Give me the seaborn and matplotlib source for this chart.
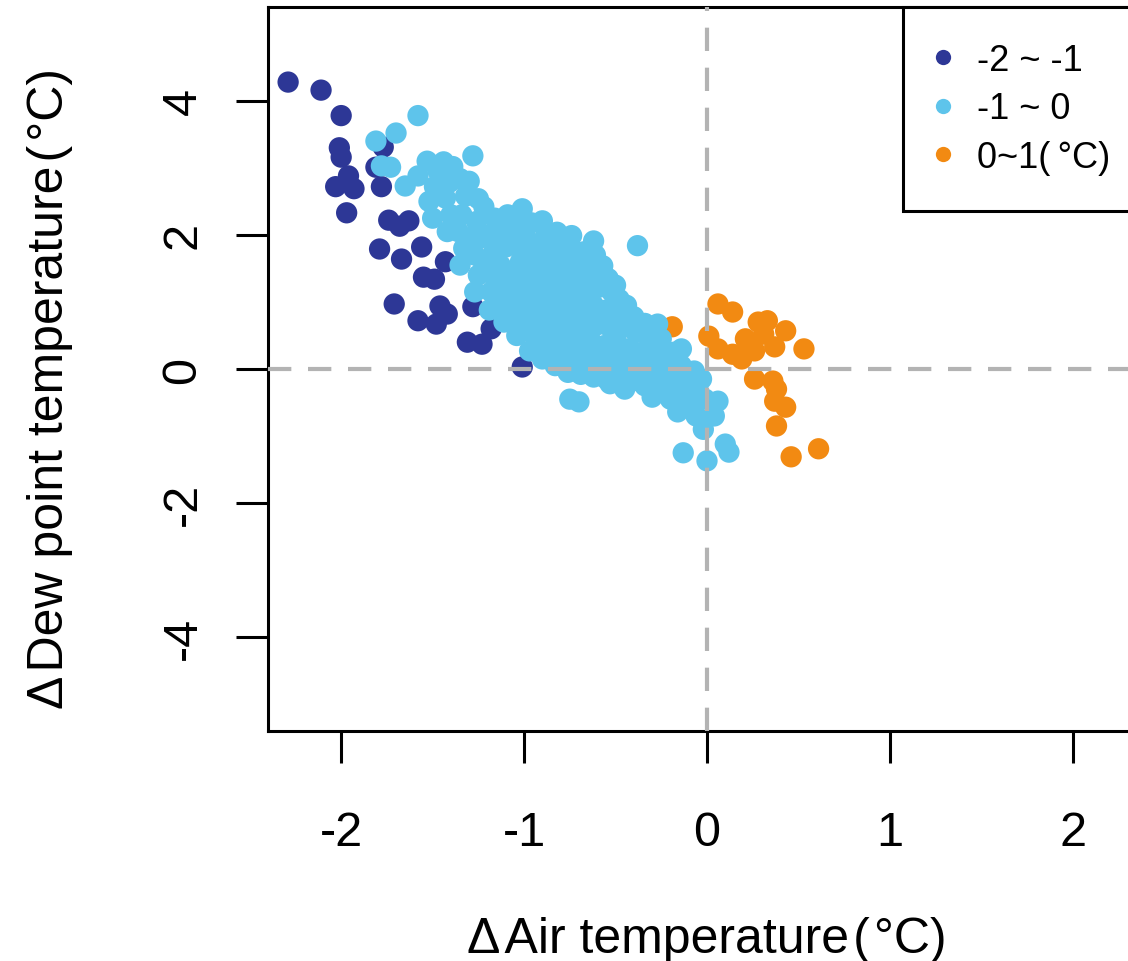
import matplotlib
matplotlib.use("Agg")
import numpy as np
import pandas as pd
import matplotlib.pyplot as plt
import seaborn as sns
from matplotlib.lines import Line2D

# ---------------- data ----------------
group_labels = ["-2 ~ -1", "-1 ~ 0", "0~1(\u2009°C)"]
group_colors = ["#2D3796", "#5EC4EB", "#F28A12"]

dark_x = [-2.29, -2.11, -2.00, -2.01, -2.00, -1.77, -1.96, -2.03, -1.93, -1.78,
          -1.81, -1.97, -1.74, -1.68, -1.63, -1.79, -1.67, -1.56, -1.55, -1.49,
          -1.71, -1.58, -1.43, -1.46, -1.42, -1.48, -1.28, -1.18, -1.31, -1.23,
          -1.01]
dark_y = [4.28, 4.16, 3.78, 3.30, 3.16, 3.31, 2.88, 2.72, 2.69, 2.72,
          3.01, 2.33, 2.22, 2.13, 2.21, 1.79, 1.64, 1.82, 1.37, 1.34,
          0.97, 0.72, 1.60, 0.94, 0.82, 0.67, 0.93, 0.60, 0.40, 0.37,
          0.03]

orange_x = [0.06, 0.14, 0.01, 0.06, 0.14, 0.19, 0.22, 0.26, 0.28, 0.33,
            0.31, 0.37, 0.43, 0.53, 0.26, 0.36, 0.38, 0.37, 0.43, 0.38,
            0.46, 0.61, -0.19, 0.21]
orange_y = [0.97, 0.85, 0.49, 0.30, 0.22, 0.15, 0.37, 0.27, 0.70, 0.72,
            0.52, 0.33, 0.57, 0.30, -0.15, -0.18, -0.30, -0.48, -0.57, -0.85,
            -1.31, -1.19, 0.63, 0.45]

light_x = [-1.58, -1.70, -1.81, -1.78, -1.73, -1.53, -1.44, -1.28, -1.58, -1.65,
           -1.35, -1.25, -1.01, -0.90, -0.74, -0.62, -0.38, -0.57, -0.82, -0.48,
           -0.40, -0.27, -0.14, -0.28, -0.23, -0.07, -0.75, -0.70, -0.53, -0.45,
           -0.30, -0.16, -0.02, 0.06, 0.04, 0.10, 0.12, 0.00, -0.13, -0.09,
           -0.01, -0.97,
           -1.50, -1.52, -1.49, -1.47,
           -1.42, -1.40, -1.43, -1.41, -1.39,
           -1.35, -1.33, -1.36, -1.34, -1.32, -1.30,
           -1.27, -1.25, -1.27, -1.24, -1.26, -1.22,
           -1.19, -1.18, -1.20, -1.17, -1.19, -1.16,
           -1.11, -1.12, -1.10, -1.13, -1.10, -1.12, -1.09,
           -1.04, -1.05, -1.03, -1.06, -1.02, -1.05, -1.03,
           -0.96, -0.98, -0.95, -0.97, -0.95, -0.98, -0.96,
           -0.90, -0.89, -0.91, -0.88, -0.90, -0.87, -0.91, -0.88,
           -0.83, -0.82, -0.84, -0.81, -0.83, -0.80, -0.84, -0.81,
           -0.76, -0.75, -0.77, -0.74, -0.76, -0.73, -0.77, -0.74,
           -0.69, -0.68, -0.70, -0.67, -0.69, -0.66, -0.70, -0.67,
           -0.62, -0.61, -0.63, -0.60, -0.62, -0.59, -0.63, -0.61,
           -0.55, -0.54, -0.56, -0.53, -0.55, -0.52, -0.54,
           -0.48, -0.47, -0.49, -0.46, -0.48,
           -0.41, -0.40, -0.42, -0.39,
           -0.34, -0.33, -0.35, -0.32, -0.34,
           -0.27, -0.26, -0.28, -0.25,
           -0.20, -0.19, -0.21, -0.18,
           -0.13, -0.12, -0.14,
           -0.06, -0.05, -0.03, -0.08,
           -1.46, -1.38, -1.30, -1.22, -1.15, -1.15, -1.08, -1.08, -1.08,
           -1.01, -1.01, -1.00, -0.94, -0.93, -0.94, -0.87, -0.86, -0.86,
           -0.80, -0.79, -0.80, -0.72, -0.72, -0.73, -0.65, -0.65, -0.66,
           -0.58, -0.58, -0.51, -0.51, -0.44, -0.44, -0.37, -0.37, -0.30,
           -0.23, -0.16, -0.10, -0.44, -0.50]
light_y = [3.78, 3.52, 3.40, 3.03, 3.01, 3.10, 3.09, 3.18, 2.88, 2.73,
           2.84, 2.54, 2.39, 2.21, 1.99, 1.91, 1.84, 1.54, 2.04, 1.04,
           0.78, 0.67, 0.30, 0.33, 0.12, -0.03, -0.45, -0.49, -0.22, -0.30,
           -0.42, -0.64, -0.90, -0.48, -0.70, -1.12, -1.24, -1.37, -1.25, -0.57,
           -0.45, 0.27,
           2.25, 2.50, 2.72, 2.95,
           2.05, 2.30, 2.55, 2.78, 3.02,
           1.55, 1.80, 2.05, 2.30, 2.58, 2.80,
           1.15, 1.40, 1.70, 1.95, 2.20, 2.42,
           0.88, 1.15, 1.45, 1.72, 2.00, 2.25,
           0.70, 0.98, 1.25, 1.55, 1.82, 2.08, 2.30,
           0.50, 0.78, 1.05, 1.33, 1.60, 1.88, 2.15,
           0.55, 0.82, 1.10, 1.38, 1.65, 1.92, 2.18,
           0.15, 0.42, 0.70, 0.98, 1.25, 1.52, 1.80, 2.02,
           0.05, 0.32, 0.60, 0.88, 1.15, 1.42, 1.68, 1.90,
           -0.05, 0.22, 0.50, 0.78, 1.05, 1.32, 1.58, 1.80,
           -0.08, 0.18, 0.45, 0.72, 1.00, 1.28, 1.55, 1.75,
           -0.12, 0.12, 0.40, 0.66, 0.95, 1.22, 1.48, 1.70,
           -0.15, 0.08, 0.35, 0.62, 0.88, 1.15, 1.35,
           -0.10, 0.12, 0.38, 0.62, 0.85,
           -0.18, 0.05, 0.30, 0.55,
           -0.25, 0.00, 0.25, 0.48, 0.68,
           -0.30, -0.08, 0.15, 0.45,
           -0.45, -0.20, 0.02, 0.25,
           -0.45, -0.20, 0.05,
           -0.70, -0.30, -0.15, -0.20,
           2.60, 2.15, 1.95, 1.55, 1.30, 1.85, 0.85, 1.40, 1.95,
           0.65, 1.20, 1.75, 0.30, 0.95, 1.55, 0.20, 0.75, 1.35,
           0.10, 0.65, 1.25, 0.05, 0.60, 1.15, 0.00, 0.55, 1.10,
           0.25, 0.80, 0.20, 0.75, 0.15, 0.65, 0.10, 0.55, 0.20,
           -0.10, -0.30, -0.40, 0.95, 1.25]

x_ticks = [-2, -1, 0, 1, 2]
y_ticks = [-4, -2, 0, 2, 4]

# draw order: dark, orange, light (light blue on top)
df = pd.concat([
    pd.DataFrame({"dT": dark_x, "dTd": dark_y, "group": group_labels[0]}),
    pd.DataFrame({"dT": orange_x, "dTd": orange_y, "group": group_labels[2]}),
    pd.DataFrame({"dT": light_x, "dTd": light_y, "group": group_labels[1]}),
], ignore_index=True)

# ---------------- style ----------------
sns.set_style("white")
plt.rcParams["font.family"] = ["Liberation Sans", "DejaVu Sans"]
plt.rcParams["axes.unicode_minus"] = False
plt.rcParams["text.color"] = "black"
plt.rcParams["axes.labelcolor"] = "black"

fig = plt.figure(figsize=(11.28, 9.62), dpi=100)
ax = fig.add_axes([268 / 1128, (962 - 732) / 962, (1146 - 268) / 1128, (732 - 8) / 962])

palette = dict(zip(group_labels, group_colors))
sns.scatterplot(data=df, x="dT", y="dTd", hue="group", palette=palette,
                s=235, linewidth=0, alpha=1, legend=False, ax=ax, zorder=3)

ax.axhline(0, color="#B3B3B3", lw=3.0, ls=(0, (5.6, 4.0)), zorder=5)
ax.axvline(0, color="#B3B3B3", lw=3.0, ls=(0, (5.6, 4.0)), zorder=5)

ax.set_xlim(-2.4, 2.4)
ax.set_ylim(-5.4, 5.4)
ax.set_xticks(x_ticks)
ax.set_yticks(y_ticks)
ax.set_xticklabels([str(t) for t in x_ticks])
ax.set_yticklabels([str(t) for t in y_ticks])

ax.tick_params(axis="both", which="both", direction="out", length=23, width=2.2,
               labelsize=35, color="black", labelcolor="black",
               bottom=True, left=True, top=False, right=False)
ax.tick_params(axis="x", pad=34)
ax.tick_params(axis="y", pad=22)
plt.setp(ax.get_yticklabels(), rotation=90, va="center")

for sp in ax.spines.values():
    sp.set_visible(True)
    sp.set_color("black")
    sp.set_linewidth(2.2)

ax.set_xlabel("Δ\u200aAir temperature\u200a(\u200a°C)", fontsize=36, labelpad=44, color="black")
ax.set_ylabel("Δ\u200aDew point temperature\u200a(\u200a°C)", fontsize=36, labelpad=61, color="black")
ax.yaxis.set_label_coords(-0.222, 0.475)

handles = [Line2D([], [], marker="o", ls="", color=c, markersize=11, markeredgewidth=0)
           for c in group_colors]
leg = ax.legend(handles, group_labels, loc="upper right", borderaxespad=0,
                frameon=True, fancybox=False, framealpha=1, edgecolor="black",
                fontsize=26, borderpad=1.0, handlelength=0.2, handletextpad=0.83,
                labelspacing=0.37)
leg.get_frame().set_linewidth(2.2)
for t in leg.get_texts():
    t.set_color("black")
leg.set_zorder(10)

fig.savefig("out.png", dpi=100)
